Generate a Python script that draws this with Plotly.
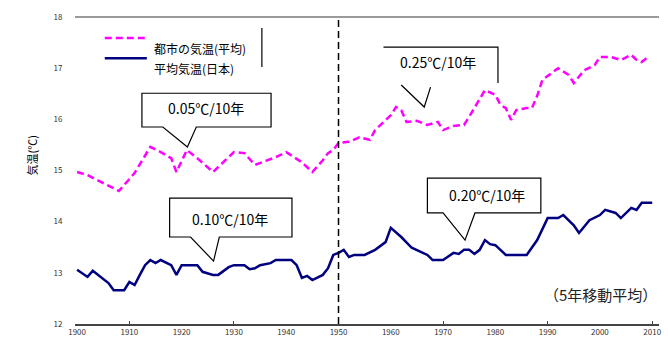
import plotly.graph_objects as go

# 5-year moving averages (℃)
years_city = [1900, 1902, 1908, 1911, 1914, 1916, 1918, 1919, 1921, 1923, 1926, 1930,
              1932, 1934, 1938, 1940, 1943, 1945, 1947, 1948, 1949, 1950, 1952, 1954,
              1956, 1957, 1960, 1961, 1962, 1963, 1965, 1967, 1969, 1970, 1972, 1974,
              1975, 1977, 1978, 1980, 1981, 1982, 1983, 1984, 1986, 1987, 1988, 1989,
              1991, 1992, 1994, 1995, 1997, 1999, 2000, 2002, 2004, 2006, 2007, 2008, 2009]
temp_city = [14.97, 14.91, 14.60, 14.95, 15.46, 15.36, 15.24, 14.97, 15.40, 15.24, 14.97, 15.36,
             15.34, 15.11, 15.26, 15.36, 15.16, 14.97, 15.20, 15.34, 15.40, 15.54, 15.56, 15.65,
             15.60, 15.79, 16.08, 16.24, 16.18, 15.95, 15.97, 15.89, 15.95, 15.79, 15.87, 15.89,
             16.05, 16.38, 16.57, 16.48, 16.28, 16.22, 15.99, 16.18, 16.22, 16.22, 16.46, 16.77,
             16.92, 17.00, 16.87, 16.71, 16.96, 17.06, 17.22, 17.22, 17.16, 17.26, 17.16, 17.12, 17.20]

years_japan = [1900, 1902, 1903, 1904, 1906, 1907, 1909, 1910, 1911, 1912, 1913, 1914,
               1915, 1916, 1918, 1919, 1920, 1922, 1923, 1924, 1926, 1927, 1929, 1930,
               1932, 1933, 1934, 1935, 1937, 1938, 1941, 1942, 1943, 1944, 1945, 1947,
               1948, 1949, 1950, 1951, 1952, 1953, 1955, 1957, 1959, 1960, 1962, 1964,
               1967, 1968, 1970, 1972, 1973, 1974, 1975, 1976, 1977, 1978, 1979, 1980,
               1982, 1983, 1986, 1988, 1990, 1992, 1993, 1995, 1996, 1998, 2000, 2001,
               2003, 2004, 2006, 2007, 2008, 2010]
temp_japan = [13.06, 12.92, 13.04, 12.96, 12.80, 12.66, 12.66, 12.82, 12.76, 12.96, 13.15, 13.25,
              13.19, 13.25, 13.15, 12.96, 13.15, 13.15, 13.15, 13.02, 12.96, 12.96, 13.11, 13.15,
              13.15, 13.07, 13.09, 13.15, 13.19, 13.25, 13.25, 13.15, 12.90, 12.94, 12.86, 12.96,
              13.09, 13.35, 13.39, 13.45, 13.31, 13.35, 13.35, 13.45, 13.60, 13.88, 13.70, 13.49,
              13.35, 13.25, 13.25, 13.39, 13.37, 13.45, 13.45, 13.37, 13.45, 13.64, 13.56, 13.54,
              13.35, 13.35, 13.35, 13.64, 14.07, 14.07, 14.13, 13.93, 13.78, 14.03, 14.13, 14.23,
              14.17, 14.07, 14.27, 14.23, 14.37, 14.37]

x_ticks = list(range(1900, 2011, 10))
x_minor = [1910, 1930, 1950, 1970, 1990, 2010]
y_ticks = [12, 13, 14, 15, 16, 17, 18]

name_city = "都市の気温(平均)"
name_japan = "平均気温(日本)"
split_year = 1950

# trend callouts: box (x0, x1, y_bottom, y_top), pointer base (b0, b1) and tip (tx, ty), label
callouts = [
    dict(box=(1912.4, 1937.1, 15.85, 16.51), base=(1916.4, 1922.8), tip=(1921.1, 15.46),
         text="0.05℃/10年", pos=(1924.7, 16.22)),
    dict(box=(1917.7, 1941.1, 13.70, 14.46), base=(1921.7, 1927.2), tip=(1926.1, 13.23),
         text="0.10℃/10年", pos=(1929.3, 14.05)),
    dict(box=(1967.0, 1988.7, 14.17, 14.85), base=(1970.0, 1976.1), tip=(1974.2, 13.64),
         text="0.20℃/10年", pos=(1978.4, 14.52)),
]
# open-framed callout for the later city trend
open_callout = dict(top=(1958.6, 1980.5, 17.41), right_bottom=16.71,
                    ptr=[(1962.0, 16.67), (1966.4, 16.24), (1967.6, 16.63)],
                    text="0.25℃/10年", pos=(1969.1, 17.12))

FONT = "Noto Sans CJK JP, DejaVu Sans, sans-serif"
PINK = "#FF00FF"
NAVY = "#000080"

fig = go.Figure()
fig.add_trace(go.Scatter(x=years_city, y=temp_city, mode="lines", name=name_city,
                         line=dict(color=PINK, width=2.5, dash="7px,4px")))
fig.add_trace(go.Scatter(x=years_japan, y=temp_japan, mode="lines", name=name_japan,
                         line=dict(color=NAVY, width=2.5)))

shapes = []
# top frame line
shapes.append(dict(type="line", xref="paper", yref="paper", x0=0, x1=1, y0=1, y1=1,
                   line=dict(color="#9a9a9a", width=2)))
# period divider
shapes.append(dict(type="line", xref="x", yref="paper", x0=split_year, x1=split_year, y0=0, y1=1,
                   line=dict(color="black", width=1.5, dash="7px,4px")))

annotations = []
for c in callouts:
    x0, x1, yb, yt = c["box"]
    b0, b1 = c["base"]
    tx, ty = c["tip"]
    path = (f"M {x0},{yt} L {x1},{yt} L {x1},{yb} L {b1},{yb} L {tx},{ty} "
            f"L {b0},{yb} L {x0},{yb} Z")
    shapes.append(dict(type="path", xref="x", yref="y", path=path,
                       fillcolor="white", line=dict(color="black", width=1.2)))
    annotations.append(dict(x=c["pos"][0], y=c["pos"][1], xref="x", yref="y", text=c["text"],
                            showarrow=False, font=dict(family=FONT, size=14, color="black")))

ox0, ox1, oyt = open_callout["top"]
shapes.append(dict(type="path", xref="x", yref="y",
                   path=f"M {ox0},{oyt} L {ox1},{oyt} L {ox1},{open_callout['right_bottom']}",
                   line=dict(color="black", width=1.2)))
p = open_callout["ptr"]
shapes.append(dict(type="path", xref="x", yref="y",
                   path=f"M {p[0][0]},{p[0][1]} L {p[1][0]},{p[1][1]} L {p[2][0]},{p[2][1]}",
                   line=dict(color="black", width=1.2)))
annotations.append(dict(x=open_callout["pos"][0], y=open_callout["pos"][1], xref="x", yref="y",
                        text=open_callout["text"], showarrow=False,
                        font=dict(family=FONT, size=14, color="black")))

# legend drawn as line samples with labels
shapes.append(dict(type="line", xref="paper", yref="paper", x0=0.051, x1=0.123, y0=0.932, y1=0.932,
                   line=dict(color=PINK, width=2.5, dash="7px,4px")))
shapes.append(dict(type="line", xref="paper", yref="paper", x0=0.051, x1=0.123, y0=0.866, y1=0.866,
                   line=dict(color=NAVY, width=2.5)))
shapes.append(dict(type="line", xref="paper", yref="paper", x0=0.320, x1=0.320, y0=0.837, y1=0.964,
                   line=dict(color="black", width=1.2)))
annotations.append(dict(x=0.131, y=0.932, xref="paper", yref="paper", text=name_city,
                        xanchor="left", showarrow=False, font=dict(family=FONT, size=12, color="black")))
annotations.append(dict(x=0.131, y=0.866, xref="paper", yref="paper", text=name_japan,
                        xanchor="left", showarrow=False, font=dict(family=FONT, size=12, color="black")))

# axis title and note
annotations.append(dict(x=-0.09, y=0.55, xref="paper", yref="paper", text="気温(℃)", textangle=-90,
                        showarrow=False, font=dict(family=FONT, size=11, color="black")))
annotations.append(dict(x=1.0, y=0.055, xref="paper", yref="paper", text="（5年移動平均）",
                        xanchor="right", showarrow=False,
                        font=dict(family=FONT, size=15, color="#222")))

fig.update_layout(
    width=668, height=346,
    margin=dict(l=75, r=6, t=17, b=22),
    paper_bgcolor="white", plot_bgcolor="white",
    showlegend=False,
    shapes=shapes,
    annotations=annotations,
    font=dict(family=FONT, size=8, color="#333"),
    xaxis=dict(range=[1899.6, 2011.3], tickvals=x_ticks, ticktext=[str(v) for v in x_ticks],
               showgrid=False, zeroline=False, showline=True, linecolor="#444", linewidth=1.5,
               ticks="", tickfont=dict(size=8, color="#333"),
               minor=dict(tickvals=x_minor, ticks="inside", ticklen=3, tickcolor="#444")),
    yaxis=dict(range=[12, 18], tickvals=y_ticks, showgrid=False, zeroline=False, showline=False,
               ticks="outside", ticklen=10, tickcolor="rgba(0,0,0,0)",
               tickfont=dict(size=8, color="#333")),
)

fig.write_html("out.html")
